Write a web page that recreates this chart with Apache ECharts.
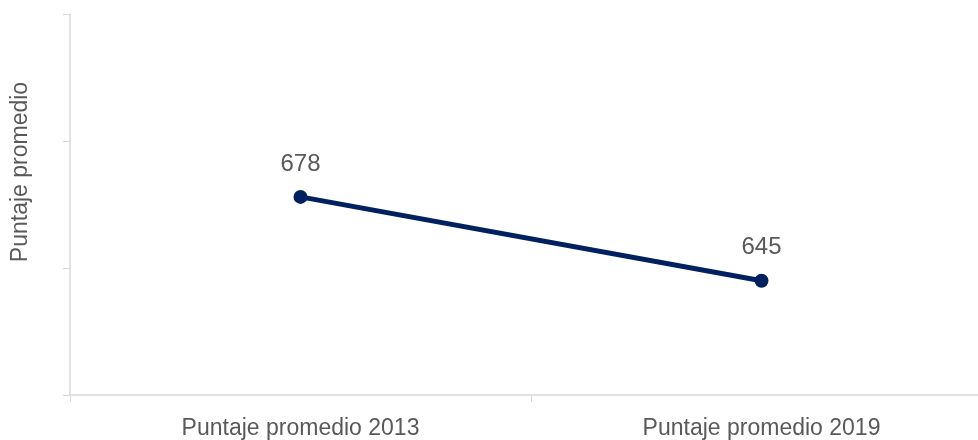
<!DOCTYPE html>
<html><head><meta charset="utf-8">
<script src="https://cdn.jsdelivr.net/npm/echarts@6/dist/echarts.min.js"></script>
<style>html,body{margin:0;padding:0;background:#fff}#c{width:978px;height:440px}</style>
</head><body><div id="c"></div>
<script>
const categories = ['Puntaje promedio 2013', 'Puntaje promedio 2019'];
const values = [678, 645];
const yTitle = 'Puntaje promedio';
const yMin = 600, yMax = 750, yInterval = 50;

const chart = echarts.init(document.getElementById('c'));
chart.setOption({
  animation: false,
  grid: { left: 70, top: 14, width: 922, height: 381, outerBoundsMode: 'none', containLabel: false },
  xAxis: {
    type: 'category', data: categories, boundaryGap: true,
    axisLine: { lineStyle: { color: '#d9d9d9', width: 1.5 } },
    axisTick: { show: true, length: 7, lineStyle: { color: '#d9d9d9' } },
    axisLabel: { color: '#595959', fontFamily: 'Liberation Sans, Arial', fontSize: 23, margin: 22 }
  },
  yAxis: {
    type: 'value', min: yMin, max: yMax, interval: yInterval,
    axisLine: { show: true, lineStyle: { color: '#d9d9d9', width: 1.5 } },
    axisTick: { show: true, length: 7, lineStyle: { color: '#d9d9d9' } },
    axisLabel: { show: false },
    splitLine: { show: false }
  },
  graphic: [{
    type: 'text', x: 9, y: 172, rotation: Math.PI / 2,
    style: { text: yTitle, fill: '#595959', font: '23px "Liberation Sans", Arial', align: 'center', verticalAlign: 'top' }
  }],
  series: [{
    type: 'line', data: values,
    lineStyle: { color: '#002060', width: 5 },
    itemStyle: { color: '#002060' },
    symbol: 'circle', symbolSize: 14,
    label: { show: true, position: 'top', distance: 14, color: '#595959', fontFamily: 'Liberation Sans, Arial', fontSize: 24 }
  }]
});
</script></body></html>
